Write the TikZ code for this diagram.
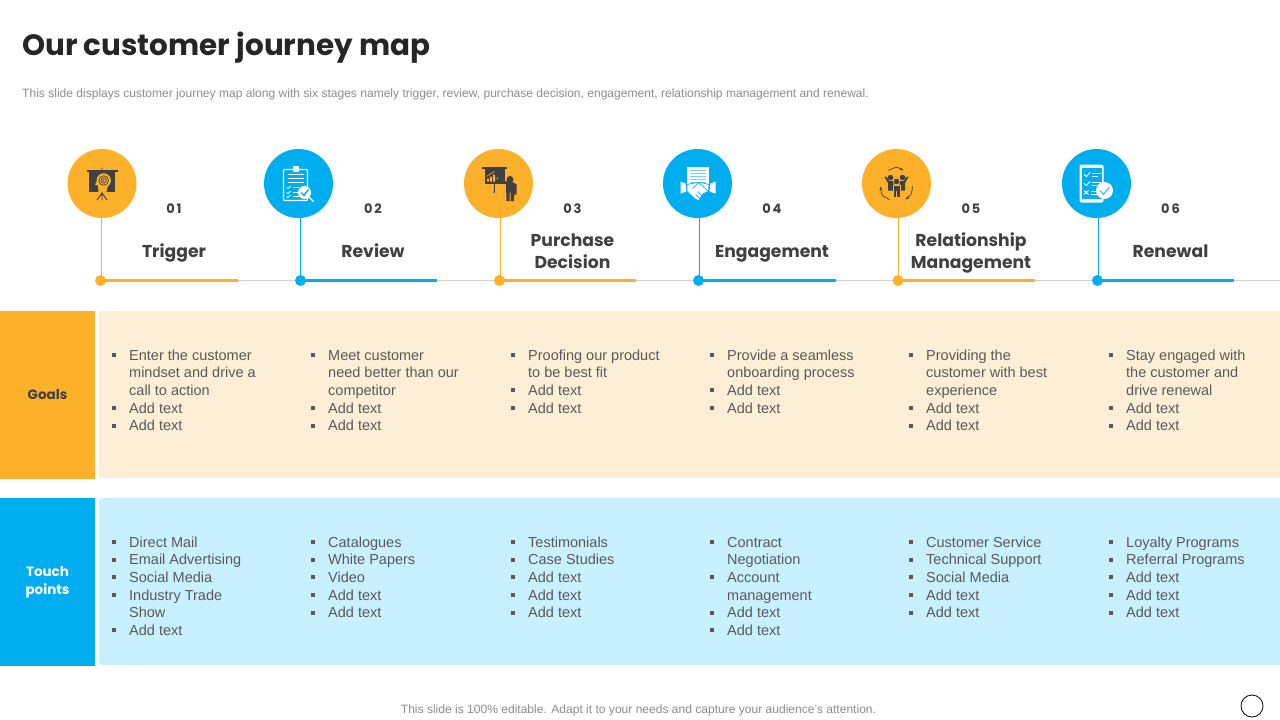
\documentclass[tikz,border=0pt]{standalone}
\usepackage{fontspec}
\setmainfont{Liberation Sans}
\newfontfamily\headfont{Poppins}
\newfontfamily\numfont{Poppins}[LetterSpace=14]
\definecolor{jorange}{RGB}{253,176,42}
\definecolor{jblue}  {RGB}{0,174,239}
\definecolor{jcream} {RGB}{253,239,214}
\definecolor{jsky}   {RGB}{201,240,255}
\definecolor{jtext}  {RGB}{89,89,89}
\definecolor{jdark}  {RGB}{64,64,64}
\definecolor{jnote}  {RGB}{140,140,140}
\usetikzlibrary{arrows.meta,positioning}
\newcommand{\bl}{\strut\makebox[15pt][l]{\hspace*{-2pt}\rule[3pt]{4pt}{4pt}}}
\newcommand{\nb}{\strut\hspace*{15pt}}
\tikzset{
  side/.style={rectangle,draw=none,fill=#1,minimum width=95pt,minimum height=168pt,
               inner sep=0pt,align=center,
               font=\headfont\bfseries\fontsize{13.5}{18}\selectfont},
  panel/.style={rectangle,draw=none,fill=#1,minimum width=1181pt,minimum height=167pt,inner sep=0pt},
  items/.style={anchor=north west,inner sep=0pt,align=left,text=jtext,
                font=\fontsize{14.5}{17.6}\selectfont},
  note/.style={inner sep=0pt,text=jnote,font=\fontsize{12.05}{14}\selectfont},
}
\begin{document}
\begin{tikzpicture}[
  x=1pt,y=-1pt,
  stagecirc/.style={circle,draw=none,fill=#1,minimum size=69pt,inner sep=0pt},
  stagedot/.style={circle,draw=none,fill=#1,minimum size=11pt,inner sep=0pt},
  stagenum/.style={inner sep=0pt,text=jdark,font=\numfont\bfseries\fontsize{13}{15}\selectfont},
  stagename/.style={inner sep=0pt,text=jdark,align=center,font=\headfont\bfseries\fontsize{17.2}{22}\selectfont},
]
  \useasboundingbox (0,0) rectangle (1280,720);

  % Heading
  \node[anchor=west,inner sep=0pt,text=black!85,font=\headfont\bfseries\fontsize{29.4}{36}\selectfont] (title) at (22,48) {Our customer journey map};
  \node[note,anchor=west] (subtitle) at (22,94) {This slide displays customer journey map along with six stages namely trigger, review,  purchase decision, engagement, relationship management and renewal.};

  % Time line
  \coordinate (linestart) at (100,280.5);
  \coordinate (lineend) at (1280,280.5);
  \draw[black!18,line width=1pt] (linestart) -- (lineend);

  % Stages
  \foreach \n/\cx/\dx/\vx/\tx/\ex/\col/\num/\name in {
    1/102/100.5/101.5/174/238/jorange/01/Trigger,
    2/298.5/300.5/300.5/373/437/jblue/02/Review,
    3/498.5/499.5/500.5/572.5/636/jorange/03/{Purchase\\Decision},
    4/697.5/698.5/699.5/772/836/jblue/04/Engagement,
    5/896.5/898/898.5/971/1035/jorange/05/{Relationship\\Management},
    6/1096.5/1097.5/1098.5/1170.5/1234/jblue/06/Renewal} {
    \node[stagecirc=\col] (c\n) at (\cx,183.5) {};
    \node[stagedot=\col] (d\n) at (\dx,280.5) {};
    \coordinate (e\n) at (\ex,280.5);
    \coordinate (v\n) at (\vx,280.5);
    \draw[\col,line width=1pt] (v\n) -- (v\n |- c\n.south);
    \draw[\col,line width=3pt] (d\n.center) -- (e\n);
    \node[stagenum] (n\n) at (\tx,208.5) {\num};
    \node[stagename] (t\n) at (\tx,252.6) {\strut\name\strut};
  }

  % Panels
  \node[side=jorange,text=jdark] (goals) at (47.5,395) {Goals};
  \node[panel=jcream] (goalspanel) at (689.5,394.5) {};
  \node[side=jblue,text=white] (touch) at (47.5,582) {Touch\\points};
  \node[panel=jsky] (touchpanel) at (689.5,581.5) {};

  % Goals lists
  \node[items] (g1) at (114,347.7) {\bl Enter the customer\\\nb mindset and drive a\\\nb call to action\\\bl Add text\\\bl Add text};
  \node[items] (g2) at (313,347.7) {\bl Meet customer\\\nb need better than our\\\nb competitor\\\bl Add text\\\bl Add text};
  \node[items] (g3) at (513,347.7) {\bl Proofing our product\\\nb to be best fit\\\bl Add text\\\bl Add text};
  \node[items] (g4) at (712,347.7) {\bl Provide a seamless\\\nb onboarding process\\\bl Add text\\\bl Add text};
  \node[items] (g5) at (911,347.7) {\bl Providing the\\\nb customer with best\\\nb experience\\\bl Add text\\\bl Add text};
  \node[items] (g6) at (1111,347.7) {\bl Stay engaged with\\\nb the customer and\\\nb drive renewal\\\bl Add text\\\bl Add text};

  % Touch point lists
  \node[items] (p1) at (114,534.7) {\bl Direct Mail\\\bl Email Advertising\\\bl Social Media\\\bl Industry Trade\\\nb Show\\\bl Add text};
  \node[items] (p2) at (313,534.7) {\bl Catalogues\\\bl White Papers\\\bl Video\\\bl Add text\\\bl Add text};
  \node[items] (p3) at (513,534.7) {\bl Testimonials\\\bl Case Studies\\\bl Add text\\\bl Add text\\\bl Add text};
  \node[items] (p4) at (712,534.7) {\bl Contract\\\nb Negotiation\\\bl Account\\\nb management\\\bl Add text\\\bl Add text};
  \node[items] (p5) at (911,534.7) {\bl Customer Service\\\bl Technical Support\\\bl Social Media\\\bl Add text\\\bl Add text};
  \node[items] (p6) at (1111,534.7) {\bl Loyalty Programs\\\bl Referral Programs\\\bl Add text\\\bl Add text\\\bl Add text};

  % Footer
  \node[note] (footer) at (638.5,710) {This slide is 100\% editable. Adapt it to your needs and capture your audience's attention.};
  \node[circle,draw=black,line width=0.8pt,minimum size=22pt,inner sep=0pt] (mark) at (1252,706) {};

  % Icon 1: board with head and target
  \begin{scope}[shift={(c1.center)}]
    \fill[jdark] (-15,-13.5) rectangle (16,-12);
    \fill[jdark] (-12.7,-12) rectangle (13.3,8.3);
    \fill[jorange] (1.7,-3) circle (7.2);
    \fill[jorange] (-5.5,-2) -- (-7,1) -- (-4,2) -- (-3.5,8.3) -- (4.5,8.3) -- (6,2) -- cycle;
    \draw[jdark,line width=0.7pt] (1.7,-3) circle (4.8) (1.7,-3) circle (2.7);
    \fill[jdark] (1.7,-3) circle (1);
    \draw[jdark,line width=0.9pt] (0,-16) -- (0,-13.5) (0,8.3) -- (0,16.5) (0,9.5) -- (-5,16.5) (0,9.5) -- (5,16.5);
  \end{scope}

  % Icon 2: clipboard with magnifier
  \begin{scope}[shift={(c2.center)}]
    \draw[white,line width=1.2pt,rounded corners=1pt] (-15,-14) rectangle (9,17);
    \fill[white] (-6,-17.5) rectangle (0,-12);
    \foreach \y in {-9,-5,-1} { \draw[white,line width=0.9pt] (-11,\y) -- (5,\y); }
    \foreach \y in {4,9,13} {
      \draw[white,line width=0.7pt] (-12,\y) -- (-10.5,\y+1) -- (-8,\y-1.5);
      \draw[white,line width=0.7pt] (-6,\y) -- (0,\y);
    }
    \draw[white,line width=1.2pt] (10,13) -- (15,18);
    \fill[white] (6,9) circle (6.5);
    \draw[jblue,line width=1.3pt] (2.5,9) -- (5.5,12) -- (10,6);
  \end{scope}

  % Icon 3: presenter at chart
  \begin{scope}[shift={(c3.center)}]
    \fill[jdark] (-16.5,-16.5) rectangle (8,-15);
    \fill[jdark] (-14,-15) rectangle (6,0);
    \fill[jorange] (-11.5,-2) rectangle (-9.5,-5) (-8.5,-2) rectangle (-6.5,-7) (-5.5,-2) rectangle (-3.5,-9);
    \draw[jorange,line width=0.6pt] (-12,-7) -- (-4,-12);
    \draw[jdark,line width=0.8pt] (-4.5,0) -- (-4.5,8);
    \fill[jdark] (-4.5,8.5) circle (1);
    \fill[jdark] (11.5,-4) circle (3.5);
    \draw[jorange,line width=1.6pt] (-1.5,-5.5) -- (8,-0.5);
    \fill[jdark] (7.5,1) -- (-1,-4) -- (0,-6) -- (9,-1.5) -- (15,-1) -- (18,1) -- (18,11) -- (15.5,11) -- (15.5,17.5) -- (12,17.5) -- (12,9) -- (11,9) -- (11,17.5) -- (8,17.5) -- cycle;
  \end{scope}

  % Icon 4: handshake under sheet
  \begin{scope}[shift={(c4.center)}]
    \fill[white] (-11,-17) rectangle (11,6);
    \foreach \y in {-13.5,-10.5,-7.5,-4.5,-1.5} { \draw[jblue!55,line width=0.6pt] (-8,\y) -- (8,\y); }
    \fill[white] (-17,-2) -- (-12,0) -- (-11,8) -- (-17,10) -- cycle;
    \fill[white] (18,-2) -- (13,0) -- (12,8) -- (18,10) -- cycle;
    \fill[white,draw=jblue,line width=0.7pt] (-10.5,1) -- (-3,-0.5) -- (3,-1) -- (11.5,1) -- (11,8) -- (6,10) -- (1,17) -- (-2.5,15.5) -- (-10.5,8) -- cycle;
    \draw[jblue,line width=0.6pt] (-5,5) -- (1,-0.5) -- (4.5,2) -- (11,8) (0,8) -- (5,12.5) (-2,11) -- (2.5,15);
  \end{scope}

  % Icon 5: group in a ring of arrows
  \begin{scope}[shift={(c5.center)}]
    \draw[jdark,line width=0.7pt,-{Stealth[length=4pt]}] (-8,-13) .. controls (0,-17) .. (7,-13);
    \draw[jdark,line width=0.7pt,-{Stealth[length=4pt]}] (16,3) .. controls (15,11) .. (9,16);
    \draw[jdark,line width=0.7pt,-{Stealth[length=4pt]}] (-7,16) .. controls (-15,12) .. (-16,3);
    \fill[jdark] (-6,-6) circle (2.8) (6,-6) circle (2.8);
    \fill[jdark] (-12,-6.5) -- (-10.5,-7) -- (-7,-2.5) -- (-3,-2.5) -- (-3,7) -- (-8.5,7) -- (-8.5,-0.5) -- cycle;
    \fill[jdark] (12,-6.5) -- (10.5,-7) -- (7,-2.5) -- (3,-2.5) -- (3,7) -- (8.5,7) -- (8.5,-0.5) -- cycle;
    \fill[jdark,draw=jorange,line width=0.5pt] (0,-2) circle (3.2);
    \fill[jdark,draw=jorange,line width=0.5pt] (-3.7,1.5) rectangle (3.7,13.5);
    \draw[jorange,line width=0.5pt] (0,7) -- (0,13.5);
  \end{scope}

  % Icon 6: phone with checklist
  \begin{scope}[shift={(c6.center)}]
    \fill[white,rounded corners=2pt] (-17,-19) rectangle (7,19);
    \fill[jblue] (-15,-15.5) rectangle (5,15.5);
    \foreach \y in {-9,0} {
      \draw[white,line width=0.9pt] (-12.5,\y) -- (-10,\y+2) -- (-6.5,\y-2);
      \draw[white,line width=0.8pt] (-5,\y-1) -- (4,\y-1) (-5,\y+2) -- (1,\y+2);
    }
    \draw[white,line width=0.9pt] (-12.5,7) -- (-8,11) (-12.5,11) -- (-8,7);
    \draw[white,line width=0.8pt] (-6,8) -- (2,8) (-6,11) -- (2,11);
    \fill[white] (8,7) circle (8.5);
    \draw[jblue!70,line width=1.2pt] (3.5,7) -- (7,11) -- (13,3.5);
  \end{scope}
\end{tikzpicture}
\end{document}
